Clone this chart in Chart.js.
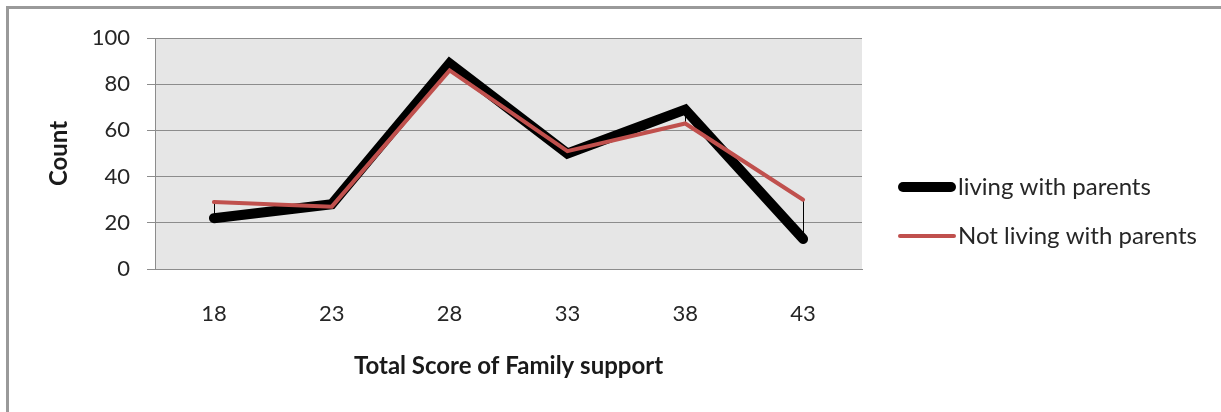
<!DOCTYPE html>
<html>
<head>
<meta charset="utf-8">
<script src="https://cdn.jsdelivr.net/npm/chart.js@4.4.0/dist/chart.umd.min.js"></script>
<style>
  html, body { margin: 0; padding: 0; background: #ffffff; overflow: hidden; }
  #wrap { position: relative; width: 1221px; height: 412px; }
  #frame {
    position: absolute; left: 6px; top: 6px; right: -10px; bottom: -10px;
    border-left: 3px solid #9a9a9a; border-top: 3px solid #9a9a9a;
    pointer-events: none;
  }
</style>
</head>
<body>
<div id="wrap">
  <canvas id="c" width="1221" height="412"></canvas>
  <div id="frame"></div>
</div>
<script>
// Family support score groups and counts per living situation
const categories = ['18', '23', '28', '33', '38', '43'];
const livingWithParents = [22, 28, 89, 50, 69, 13];
const notLivingWithParents = [29, 27, 86, 51, 63, 30];
const yTicks = [0, 20, 40, 60, 80, 100];
const seriesNames = ['living with parents', 'Not living with parents'];
const axisTitles = { x: 'Total Score of Family support', y: 'Count' };

const TEXT = '#262626';
const GRID = '#8c8c8c';

// Grey fill behind the plotting area
const plotBackground = {
  id: 'plotBackground',
  beforeDraw(chart) {
    const { ctx, chartArea: a } = chart;
    ctx.save();
    ctx.fillStyle = '#e6e6e6';
    ctx.fillRect(a.left, a.top, a.right - a.left, a.bottom - a.top);
    ctx.restore();
  }
};

// Thin high-low connectors between the two series at each category
const hiLowLines = {
  id: 'hiLowLines',
  beforeDatasetsDraw(chart) {
    const a = chart.getDatasetMeta(0).data;
    const b = chart.getDatasetMeta(1).data;
    const ctx = chart.ctx;
    ctx.save();
    ctx.strokeStyle = '#000000';
    ctx.lineWidth = 1;
    a.forEach((p, i) => {
      const q = b[i];
      if (!q) return;
      const x = Math.round(p.x) + 0.5;
      ctx.beginPath();
      ctx.moveTo(x, p.y);
      ctx.lineTo(x, q.y);
      ctx.stroke();
    });
    ctx.restore();
  }
};

// Legend drawn as line samples stacked on the right
const lineLegend = {
  id: 'lineLegend',
  afterDraw(chart, args, opts) {
    const ctx = chart.ctx;
    ctx.save();
    chart.data.datasets.forEach((ds, i) => {
      const y = opts.top + i * opts.spacing;
      const w = ds.borderWidth;
      ctx.beginPath();
      ctx.strokeStyle = ds.borderColor;
      ctx.lineWidth = w;
      ctx.lineCap = 'round';
      ctx.moveTo(opts.x + w / 2, y);
      ctx.lineTo(opts.x + opts.sampleWidth - w / 2, y);
      ctx.stroke();
      ctx.fillStyle = opts.color;
      ctx.font = opts.font;
      ctx.textAlign = 'left';
      ctx.textBaseline = 'middle';
      ctx.fillText(ds.label, opts.x + opts.sampleWidth + 2, y);
    });
    ctx.restore();
  }
};

new Chart(document.getElementById('c'), {
  type: 'line',
  data: {
    labels: categories,
    datasets: [
      {
        label: seriesNames[0],
        data: livingWithParents,
        borderColor: '#000000',
        backgroundColor: '#000000',
        borderWidth: 10,
        borderCapStyle: 'round',
        borderJoinStyle: 'miter',
        pointRadius: 0,
        tension: 0,
        fill: false,
        clip: false,
        order: 1
      },
      {
        label: seriesNames[1],
        data: notLivingWithParents,
        borderColor: '#c0504d',
        backgroundColor: '#c0504d',
        borderWidth: 4,
        borderCapStyle: 'round',
        borderJoinStyle: 'miter',
        pointRadius: 0,
        tension: 0,
        fill: false,
        clip: false,
        order: 0
      }
    ]
  },
  plugins: [plotBackground, hiLowLines, lineLegend],
  options: {
    responsive: false,
    animation: false,
    devicePixelRatio: 1,
    layout: { padding: { left: 0, top: 38, right: 359, bottom: 0 } },
    plugins: {
      legend: { display: false },
      tooltip: { enabled: false },
      lineLegend: {
        x: 898, top: 187, spacing: 49, sampleWidth: 58,
        color: TEXT, font: '24px Lato'
      }
    },
    scales: {
      x: {
        offset: true,
        grid: { display: false, drawTicks: false },
        border: { display: true, color: GRID, width: 1 },
        ticks: { color: TEXT, font: { family: 'Lato', size: 22 }, padding: 32, maxRotation: 0 },
        title: {
          display: true, text: axisTitles.x, color: '#1a1a1a',
          font: { family: 'Lato', size: 24, weight: 'bold' },
          padding: { top: 0, bottom: 31 }
        },
        afterFit(scale) { scale.height = 143; }
      },
      y: {
        min: 0, max: 100,
        afterBuildTicks(scale) { scale.ticks = yTicks.map(v => ({ value: v })); },
        grid: { color: GRID, lineWidth: 1, tickLength: 8, drawTicks: true },
        border: { display: true, color: GRID, width: 1 },
        ticks: { color: TEXT, font: { family: 'Lato', size: 22 }, padding: 17 },
        title: {
          display: true, text: axisTitles.y, color: '#1a1a1a',
          font: { family: 'Lato', size: 24, weight: 'bold' },
          padding: { top: 45, bottom: 0 }
        },
        afterFit(scale) { scale.width = 155; }
      }
    }
  }
});
</script>
</body>
</html>
